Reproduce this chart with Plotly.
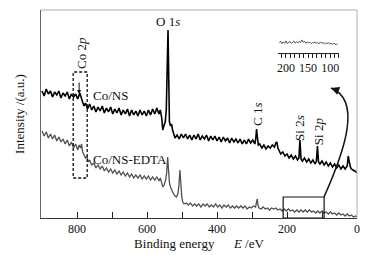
import plotly.graph_objects as go

# ---------------- data ----------------
ns_energy = [900, 894, 888, 882, 876, 870, 864, 858, 852, 846, 840, 834, 828, 822, 816, 810, 804, 798, 792, 788,
             784, 780, 776, 770, 764, 758, 752, 746, 740, 734, 728, 722, 716, 710, 704, 698, 692, 686, 680, 674,
             668, 662, 656, 650, 644, 638, 632, 626, 620, 614, 608, 602, 596, 590, 584, 578, 572, 566, 562, 558,
             555, 552, 548, 545, 542, 540, 538, 536, 533, 530, 527, 524, 520, 514, 508, 502, 496, 490, 484, 478,
             472, 466, 460, 454, 448, 442, 436, 430, 424, 418, 412, 406, 400, 394, 388, 382, 376, 370, 364, 358,
             352, 346, 340, 334, 328, 322, 316, 310, 304, 298, 292, 289, 287, 285, 282, 278, 272, 266, 260, 254,
             248, 242, 236, 232, 229, 226, 222, 218, 212, 206, 200, 194, 188, 182, 176, 170, 166, 163, 160, 156,
             150, 144, 138, 132, 126, 120, 116, 113, 110, 106, 100, 94, 88, 82, 76, 70, 64, 58, 52, 46,
             40, 34, 28, 25, 22, 18, 12, 6, 0]
ns_intensity = [127, 122, 129, 124, 127, 121, 126, 123, 127, 120, 125, 122, 126, 119, 124, 121, 124, 119, 125, 119,
                116, 112, 115, 109, 114, 108, 112, 106, 111, 107, 112, 105, 110, 106, 111, 104, 109, 105, 110, 103,
                108, 104, 109, 102, 108, 103, 107, 102, 108, 103, 107, 102, 108, 103, 109, 104, 110, 104, 108, 100,
                88, 92, 96, 108, 150, 188, 140, 96, 92, 94, 88, 84, 80, 83, 79, 84, 80, 84, 79, 83,
                78, 83, 79, 84, 78, 82, 79, 83, 77, 82, 78, 82, 77, 81, 76, 81, 77, 80, 75, 80,
                76, 79, 75, 79, 74, 78, 74, 79, 75, 78, 74, 80, 89, 82, 73, 74, 70, 73, 69, 72,
                70, 73, 71, 75, 76, 70, 66, 64, 66, 62, 64, 60, 63, 59, 62, 58, 60, 78, 59, 57,
                60, 56, 59, 55, 58, 54, 57, 72, 56, 54, 57, 53, 56, 52, 55, 51, 54, 50, 53, 49,
                52, 49, 52, 62, 56, 50, 48, 47, 45]

edta_energy = [900, 894, 888, 882, 876, 870, 864, 858, 852, 846, 840, 834, 828, 822, 816, 810, 804, 798, 794, 790,
               787, 784, 780, 776, 772, 768, 764, 758, 752, 746, 740, 734, 728, 722, 716, 710, 704, 698, 692, 686,
               680, 674, 668, 662, 656, 650, 644, 638, 632, 626, 620, 614, 608, 602, 596, 590, 584, 578, 572, 566,
               562, 558, 555, 551, 547, 544, 541, 539, 536, 532, 528, 524, 520, 516, 512, 509, 506, 504, 501, 498,
               494, 488, 482, 476, 470, 464, 458, 452, 446, 440, 434, 428, 422, 416, 410, 404, 398, 392, 386, 380,
               374, 368, 362, 356, 350, 344, 338, 332, 326, 320, 314, 308, 302, 296, 290, 287, 285, 283, 280, 274,
               268, 262, 256, 250, 244, 238, 232, 226, 220, 214, 208, 202, 196, 190, 184, 178, 172, 166, 160, 154,
               148, 142, 136, 130, 124, 118, 112, 106, 100, 94, 88, 82, 76, 70, 64, 58, 52, 46, 40, 34,
               28, 22, 16, 10, 4, 0]
edta_intensity = [87, 82, 86, 80, 84, 79, 83, 77, 81, 76, 79, 74, 78, 72, 76, 70, 74, 68, 73, 70,
                  74, 66, 63, 60, 62, 56, 58, 53, 55, 50, 53, 49, 52, 47, 50, 46, 49, 45, 48, 44,
                  47, 43, 46, 42, 45, 41, 44, 40, 43, 40, 43, 39, 42, 39, 42, 38, 41, 38, 41, 37,
                  40, 36, 31, 33, 38, 45, 61, 50, 35, 30, 26, 24, 22, 21, 24, 32, 48, 36, 22, 16,
                  14, 15, 13, 15, 12, 14, 12, 14, 11, 14, 12, 14, 11, 13, 11, 14, 11, 13, 10, 13,
                  11, 13, 10, 12, 10, 12, 10, 12, 10, 12, 9, 11, 10, 12, 11, 16, 19, 13, 10, 9,
                  11, 9, 10, 8, 10, 9, 10, 8, 9, 7, 9, 7, 9, 7, 8, 6, 8, 6, 8, 6,
                  8, 6, 8, 6, 7, 5, 7, 5, 7, 5, 6, 4, 6, 4, 5, 3, 5, 3, 4, 2,
                  4, 2, 3, 1, 2, 1]

inset_energy = [215, 212, 209, 206, 203, 200, 197, 194, 191, 188, 185, 182, 179, 176, 173, 170, 167, 164, 161, 158,
                155, 152, 149, 146, 143, 140, 137, 134, 131, 128, 125, 122, 119, 116, 113, 110, 107, 104, 101, 98,
                95, 92, 89, 86, 83]
inset_intensity = [6.5, 7.4, 5.8, 7.0, 6.1, 7.6, 5.9, 6.8, 7.3, 6.0, 6.9, 7.5, 6.2, 7.1, 6.4, 7.2, 6.6, 8.2, 6.9, 7.3,
                   6.1, 7.0, 6.4, 6.8, 5.9, 6.7, 6.2, 7.0, 6.0, 6.6, 5.8, 6.9, 6.1, 6.5, 5.7, 6.4, 5.9, 6.6, 5.6, 6.2,
                   5.4, 6.0, 5.7, 5.2, 5.9]

x_tickvals = [800, 600, 400, 200, 0]
x_minor_tickvals = [700, 500, 300, 100]
inset_tickvals = [200, 150, 100]

FONT = "Liberation Serif"
TXT = "#111111"
LBL = 13

fig = go.Figure()
fig.add_trace(go.Scatter(x=ns_energy, y=ns_intensity, mode="lines",
                         line=dict(color="#000000", width=1.6), showlegend=False))
fig.add_trace(go.Scatter(x=edta_energy, y=edta_intensity, mode="lines",
                         line=dict(color="#505050", width=1.3), showlegend=False))
fig.add_trace(go.Scatter(x=inset_energy, y=inset_intensity, mode="lines", xaxis="x2", yaxis="y2",
                         line=dict(color="#505050", width=1), showlegend=False))

nb = "\u00a0"
# the page body has an 8px margin: the figure is sized so that the plot lands where the reference has it
fig.update_layout(
    width=360, height=247,
    margin=dict(l=33, r=11, t=2, b=37),
    paper_bgcolor="white", plot_bgcolor="white",
    font=dict(family=FONT, size=12, color=TXT),
    xaxis=dict(range=[903, 0], tickvals=x_tickvals, ticks="inside", ticklen=6, tickcolor="#222",
               showline=True, linecolor="#333", linewidth=1, showgrid=False, zeroline=False,
               minor=dict(tickmode="array", tickvals=x_minor_tickvals, ticks="inside", ticklen=6,
                          tickcolor="#222"),
               tickfont=dict(size=12, family=FONT, color=TXT),
               title=dict(text="Binding energy" + nb * 6 + "<i>E</i> /eV", standoff=2,
                          font=dict(size=LBL, family=FONT, color=TXT))),
    yaxis=dict(range=[0, 208], showticklabels=False, ticks="", showgrid=False, zeroline=False,
               showline=True, linecolor="#666", linewidth=1,
               title=dict(text="Intensity /(a.u.)", standoff=12, font=dict(size=LBL, family=FONT, color=TXT))),
    xaxis2=dict(domain=[0.75, 0.943], anchor="y2", range=[218, 80], tickvals=inset_tickvals,
                ticks="outside", ticklen=4, tickcolor="#222", showline=True, linecolor="#222",
                minor=dict(dtick=10, tick0=0, ticks="outside", ticklen=4, tickcolor="#222"),
                showgrid=False, zeroline=False, tickfont=dict(size=12, family=FONT, color=TXT)),
    yaxis2=dict(domain=[0.793, 0.87], anchor="x2", range=[0, 10], visible=False),
)

# frame top / right (light gray)
fig.add_shape(type="line", xref="paper", yref="paper", x0=0, x1=1, y0=1, y1=1,
              line=dict(color="#b0b0b0", width=1))
fig.add_shape(type="line", xref="paper", yref="paper", x0=1, x1=1, y0=0, y1=1,
              line=dict(color="#b0b0b0", width=1))

# dashed box around Co 2p
fig.add_shape(type="rect", xref="x", yref="y", x0=811, x1=771, y0=40, y1=146,
              line=dict(color="#111", width=1.3, dash="3px,2px"))
# solid box of the zoomed region
fig.add_shape(type="rect", xref="x", yref="y", x0=211, x1=94, y0=0, y1=21,
              line=dict(color="#111", width=1.2))
# curved connector
fig.add_shape(type="path", xref="x", yref="y",
              path="M94.3,21 C34.3,68 -14.3,118 74.3,130",
              line=dict(color="#111", width=1.5))
fig.add_annotation(x=74.3, y=130, ax=52, ay=127, xref="x", yref="y", axref="x", ayref="y",
                   text="", showarrow=True, arrowhead=2, arrowsize=1.1, arrowwidth=1.5, arrowcolor="#111")
# small arrow in the Co 2p box
fig.add_annotation(x=794, y=124, ax=794, ay=137, xref="x", yref="y", axref="x", ayref="y",
                   text="", showarrow=True, arrowhead=2, arrowsize=0.8, arrowwidth=1, arrowcolor="#111")

labels = [
    dict(x=541, y=197, text="O 1<i>s</i>", textangle=0, xanchor="center"),
    dict(x=789, y=165, text="Co 2<i>p</i>", textangle=-90, xanchor="center"),
    dict(x=757, y=123, text="Co/NS", textangle=0, xanchor="left"),
    dict(x=757, y=59, text="Co/NS-EDTA", textangle=0, xanchor="left"),
    dict(x=286, y=104, text="C 1<i>s</i>", textangle=-90, xanchor="center"),
    dict(x=166, y=90, text="Si 2<i>s</i>", textangle=-90, xanchor="center"),
    dict(x=111, y=87, text="Si 2<i>p</i>", textangle=-90, xanchor="center"),
]
for lb in labels:
    fig.add_annotation(x=lb["x"], y=lb["y"], text=lb["text"], textangle=lb["textangle"],
                       xref="x", yref="y", showarrow=False, xanchor=lb["xanchor"], yanchor="middle",
                       font=dict(size=LBL, family=FONT, color=TXT), borderpad=0)

fig.write_html("out.html")
